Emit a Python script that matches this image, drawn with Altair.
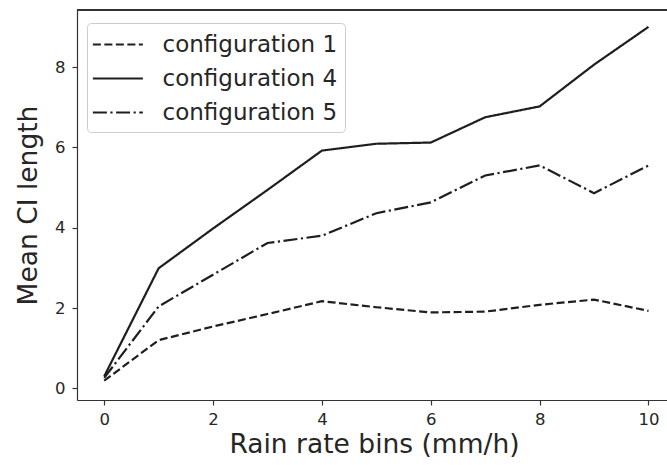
import altair as alt
import pandas as pd

# Data
rain_bins = list(range(11))
config_names = ["configuration 1", "configuration 4", "configuration 5"]
config1 = [0.19, 1.20, 1.54, 1.85, 2.17, 2.02, 1.89, 1.91, 2.08, 2.21, 1.93]
config4 = [0.30, 2.99, 3.98, 4.94, 5.92, 6.09, 6.12, 6.75, 7.02, 8.06, 9.00]
config5 = [0.26, 2.04, 2.83, 3.62, 3.80, 4.36, 4.63, 5.30, 5.55, 4.86, 5.55]
x_ticks = [0, 2, 4, 6, 8, 10]
y_ticks = [0, 2, 4, 6, 8]

rows = []
for name, vals in zip(config_names, [config1, config4, config5]):
    for b, v in zip(rain_bins, vals):
        rows.append({"bin": b, "value": v, "config": name})
df = pd.DataFrame(rows)

FONT = "DejaVu Sans"
INK = "#1e1e1e"
SPINE = "#333333"
W, H = 590, 390

lines = alt.Chart(df).mark_line(strokeWidth=2.2, color=INK, clip=True).encode(
    x=alt.X("bin:Q",
            scale=alt.Scale(domain=[-0.5, 10.34], nice=False, zero=False),
            axis=alt.Axis(values=x_ticks, format="d", title="Rain rate bins (mm/h)",
                          grid=False, tickSize=5, tickWidth=1.2, tickColor=SPINE,
                          domainColor=SPINE, domainWidth=1.2,
                          labelFont=FONT, labelFontSize=16.5, labelColor="#262626",
                          labelPadding=6, titleFont=FONT, titleFontSize=26.5,
                          titleFontWeight="normal", titleColor="#262626",
                          titlePadding=4, titleX=297)),
    y=alt.Y("value:Q",
            scale=alt.Scale(domain=[-0.29, 9.42], nice=False, zero=False),
            axis=alt.Axis(values=y_ticks, format="d", title="Mean CI length",
                          grid=False, tickSize=5, tickWidth=1.2, tickColor=SPINE,
                          domainColor=SPINE, domainWidth=1.2,
                          labelFont=FONT, labelFontSize=16.5, labelColor="#262626",
                          labelPadding=7, titleFont=FONT, titleFontSize=26.5,
                          titleFontWeight="normal", titleColor="#262626",
                          titlePadding=12)),
    strokeDash=alt.StrokeDash("config:N",
        scale=alt.Scale(domain=config_names,
                        range=[[8, 3.5], [1, 0], [14, 3.5, 2.2, 3.5]]),
        legend=alt.Legend(title=None, orient="none", legendX=10, legendY=13,
                          symbolType="M-1.25,0H2.75", symbolSize=625,
                          symbolStrokeWidth=2.2,
                          symbolStrokeColor=INK, labelFont=FONT, labelFontSize=23,
                          labelColor="#262626", labelOffset=40, labelLimit=400,
                          rowPadding=8, padding=7.5, fillColor="white",
                          strokeColor="#cccccc", cornerRadius=4)),
    detail="config:N",
)

top_spine = alt.Chart(df).mark_rule(color=SPINE, strokeWidth=1.2).encode(
    x=alt.value(0), x2=alt.value(W), y=alt.value(0)
)

chart = alt.layer(lines, top_spine).properties(
    width=W, height=H,
    autosize=alt.AutoSizeParams(type="none"),
    padding={"left": 77, "top": 10, "right": 0, "bottom": 65},
).configure_view(stroke=None).configure(background="white")

chart.save("out.html", embed_options={"renderer": "svg", "actions": False})
